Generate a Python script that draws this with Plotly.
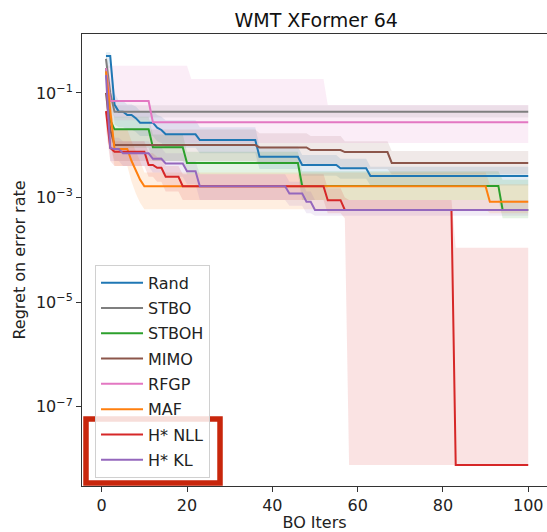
import plotly.graph_objects as go

# ---------------- data (run-length encoded best-so-far regret) ----------------
ITERS = list(range(1, 101))
NAMES = ["Rand", "STBO", "STBOH", "MIMO", "RFGP", "MAF", "H* NLL", "H* KL"]
COLORS = ["#1f77b4", "#7f7f7f", "#2ca02c", "#8c564b", "#e377c2", "#ff7f0e", "#d62728", "#9467bd"]

# each series: iteration where a value starts, mean value, band low, band high
rand_at = [1, 3, 4, 6, 8, 9, 13, 14, 15, 23, 37, 47, 56, 63]
rand_val = [0.51, 0.06, 0.044, 0.038, 0.033, 0.027, 0.0217, 0.0196, 0.0162, 0.0126, 0.00605, 0.0042, 0.00363, 0.00259]
rand_lo = [0.3, 0.025, 0.022, 0.02, 0.018, 0.015, 0.012, 0.011, 0.009, 0.007, 0.0035, 0.0026, 0.0023, 0.0017]
rand_hi = [0.6, 0.1, 0.07, 0.06, 0.055, 0.045, 0.038, 0.035, 0.03, 0.022, 0.0095, 0.0065, 0.0055, 0.0039]

stbo_at = [1, 2, 3]
stbo_val = [0.45, 0.1, 0.044]
stbo_lo = [0.3, 0.05, 0.034]
stbo_hi = [0.6, 0.2, 0.058]

stboh_at = [1, 2, 3, 12, 20, 47, 94]
stboh_val = [0.3, 0.03, 0.0202, 0.00916, 0.00459, 0.00167, 0.00058]
stboh_lo = [0.15, 0.015, 0.009, 0.005, 0.0028, 0.0009, 0.0004]
stboh_hi = [0.5, 0.07, 0.035, 0.016, 0.0075, 0.0032, 0.0022]

mimo_at = [1, 2, 3, 37, 49, 57, 68]
mimo_val = [0.1, 0.02, 0.0101, 0.0091, 0.0081, 0.0074, 0.0046]
mimo_lo = [0.05, 0.01, 0.005, 0.0045, 0.004, 0.0035, 0.0028]
mimo_hi = [0.3, 0.04, 0.02, 0.017, 0.015, 0.012, 0.0078]

rfgp_at = [1, 2, 12, 21, 53]
rfgp_val = [0.3, 0.0703, 0.0275, 0.0275, 0.0275]
rfgp_lo = [0.1, 0.03, 0.011, 0.011, 0.011]
rfgp_hi = [0.33, 0.33, 0.33, 0.185, 0.059]

maf_at = [1, 2, 3, 7, 8, 9, 10, 91]
maf_val = [0.26, 0.04, 0.0085, 0.005, 0.0033, 0.0022, 0.00165, 0.00083]
maf_lo = [0.1, 0.012, 0.004, 0.002, 0.0012, 0.0008, 0.0006, 0.0005]
maf_hi = [0.4, 0.07, 0.02, 0.012, 0.008, 0.005, 0.003, 0.0018]

nll_at = [1, 2, 3, 11, 13, 15, 19, 53, 57, 58, 83]
nll_val = [0.045, 0.009, 0.0075, 0.0042, 0.0037, 0.0025, 0.00165, 0.00089, 0.00058, 0.00058, 7.7e-9]
nll_lo = [0.02, 0.005, 0.004, 0.0025, 0.002, 0.0013, 0.0009, 0.0005, 0.0004, 7.7e-9, 7.7e-9]
nll_hi = [0.08, 0.015, 0.012, 0.007, 0.006, 0.004, 0.0028, 0.0015, 0.001, 0.0009, 1.1e-4]

kl_at = [1, 2, 3, 5, 12, 15, 20, 23, 44, 48, 50]
kl_val = [0.22, 0.0088, 0.0085, 0.007, 0.0055, 0.0045, 0.0032, 0.00165, 0.0012, 0.00083, 0.00058]
kl_lo = [0.1, 0.005, 0.005, 0.004, 0.003, 0.0025, 0.0018, 0.0009, 0.0007, 0.0005, 0.00045]
kl_hi = [0.4, 0.015, 0.014, 0.012, 0.009, 0.007, 0.005, 0.0028, 0.002, 0.0013, 0.0009]

X_TICKS = [0, 20, 40, 60, 80, 100]
Y_TICKS = [1e-7, 1e-5, 1e-3, 1e-1]
Y_TICK_TEXT = ["10<sup>−7</sup>", "10<sup>−5</sup>", "10<sup>−3</sup>", "10<sup>−1</sup>"]


def expand(at, vals):
    """Hold each recorded value until the next recorded change."""
    out, k = [], 0
    for it in ITERS:
        while k + 1 < len(at) and at[k + 1] <= it:
            k += 1
        out.append(vals[k])
    return out


SERIES = [
    (rand_at, rand_val, rand_lo, rand_hi),
    (stbo_at, stbo_val, stbo_lo, stbo_hi),
    (stboh_at, stboh_val, stboh_lo, stboh_hi),
    (mimo_at, mimo_val, mimo_lo, mimo_hi),
    (rfgp_at, rfgp_val, rfgp_lo, rfgp_hi),
    (maf_at, maf_val, maf_lo, maf_hi),
    (nll_at, nll_val, nll_lo, nll_hi),
    (kl_at, kl_val, kl_lo, kl_hi),
]


def rgba(hexc, a):
    h = hexc.lstrip("#")
    r, g, b = int(h[0:2], 16), int(h[2:4], 16), int(h[4:6], 16)
    return f"rgba({r},{g},{b},{a})"


fig = go.Figure()

# bands
for (at, val, lo, hi), name, col in zip(SERIES, NAMES, COLORS):
    fig.add_trace(go.Scatter(x=ITERS, y=expand(at, hi), mode="lines", line=dict(width=0),
                             showlegend=False, hoverinfo="skip", legendgroup=name))
    fig.add_trace(go.Scatter(x=ITERS, y=expand(at, lo), mode="lines", line=dict(width=0),
                             fill="tonexty", fillcolor=rgba(col, 0.13),
                             showlegend=False, hoverinfo="skip", legendgroup=name))

# mean lines
for (at, val, lo, hi), name, col in zip(SERIES, NAMES, COLORS):
    fig.add_trace(go.Scatter(x=ITERS, y=expand(at, val), mode="lines", name=name,
                             legendgroup=name, line=dict(color=col, width=2)))

FONT = "DejaVu Sans"
fig.update_layout(
    width=547, height=532,
    margin=dict(l=82, r=0, t=34, b=46),
    paper_bgcolor="white", plot_bgcolor="white",
    font=dict(family=FONT, size=16, color="#222"),
    title=dict(text="WMT XFormer 64", x=0.578, xanchor="center", y=0.962, yanchor="middle",
               font=dict(family=FONT, size=19, color="#111")),
    showlegend=True,
    legend=dict(x=0.028, y=0.4895, xanchor="left", yanchor="top",
                bgcolor="rgba(255,255,255,0.85)", bordercolor="#d0d0d0", borderwidth=1,
                font=dict(family=FONT, size=16, color="#222"), traceorder="grouped",
                tracegroupgap=1.5, itemwidth=42),
    xaxis=dict(range=[-4.62, 104.4], tickvals=X_TICKS, ticks="outside", ticklen=5,
               tickcolor="#333", showline=True, linecolor="#333", linewidth=1, mirror=True,
               showgrid=False, zeroline=False,
               title=dict(text="BO Iters", standoff=4, font=dict(size=16))),
    yaxis=dict(type="log", range=[-8.516, 0.128], tickvals=Y_TICKS, ticktext=Y_TICK_TEXT,
               ticks="outside", ticklen=5, tickcolor="#333", showline=True, linecolor="#333",
               linewidth=1, mirror=True, showgrid=False, zeroline=False,
               title=dict(text="Regret on error rate", standoff=6, font=dict(size=16))),
)

# red highlight box around the last two legend entries
fig.add_shape(type="rect", xref="paper", yref="paper",
              x0=0.0086, x1=0.2968, y0=0.0066, y1=0.148,
              line=dict(color="#c8260c", width=5.5), fillcolor="rgba(0,0,0,0)", layer="above")

fig.write_html("out.html")
